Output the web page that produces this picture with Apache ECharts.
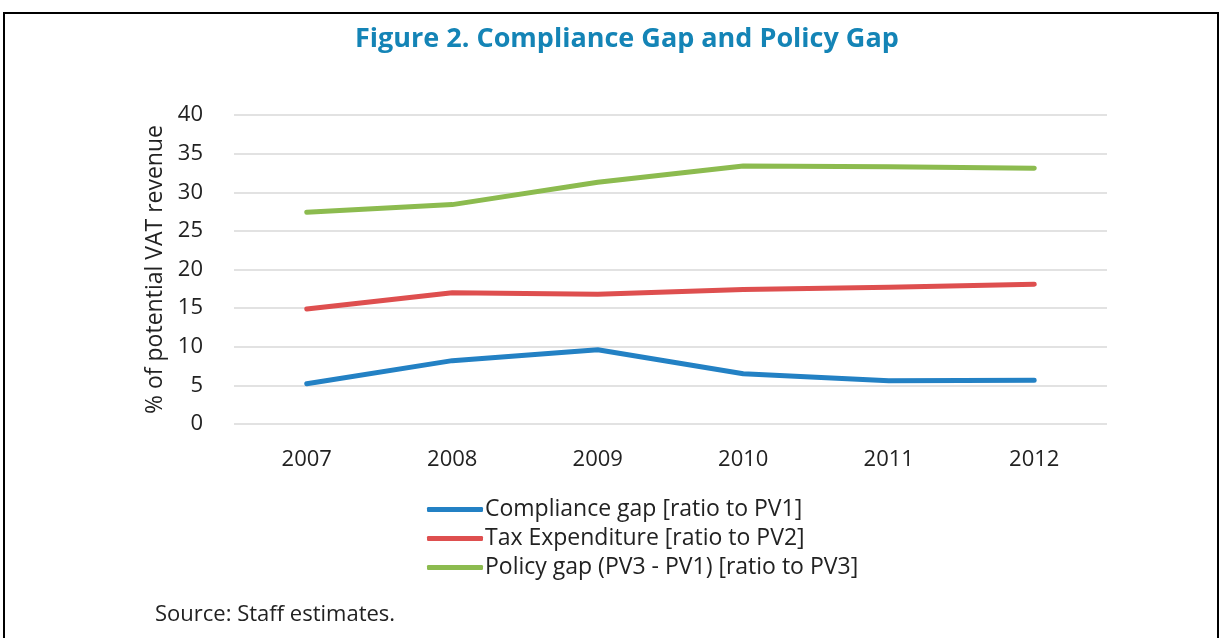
<!DOCTYPE html>
<html>
<head>
<meta charset="utf-8">
<script src="https://cdn.jsdelivr.net/npm/echarts@6/dist/echarts.min.js"></script>
<style>
  html, body { margin: 0; padding: 0; background: #fff; }
  #chart { width: 1220px; height: 638px; }
</style>
</head>
<body>
<div id="chart"></div>
<script>
const years = ["2007", "2008", "2009", "2010", "2011", "2012"];
const yTicks = [0, 5, 10, 15, 20, 25, 30, 35, 40];
const complianceGap = [5.2, 8.2, 9.6, 6.5, 5.6, 5.65];
const taxExpenditure = [14.9, 17.0, 16.8, 17.4, 17.7, 18.1];
const policyGap = [27.4, 28.4, 31.3, 33.4, 33.3, 33.1];
const seriesNames = [
  "Compliance gap [ratio to PV1]",
  "Tax Expenditure [ratio to PV2]",
  "Policy gap (PV3 - PV1) [ratio to PV3]"
];
const colors = ["#2381c4", "#de4f4f", "#8cbb4f"];

const FONT = "'Open Sans', 'Noto Sans', sans-serif";

const chart = echarts.init(document.getElementById("chart"));

const chartOpt = {
  animation: false,
  textStyle: { fontFamily: FONT },
  title: {
    text: "Figure 2. Compliance Gap and Policy Gap",
    left: 350,
    top: 21,
    textStyle: { color: "#1484b6", fontSize: 27, fontWeight: "bold", fontFamily: FONT }
  },
  graphic: [
    {
      type: "polyline",
      shape: { points: [[4, 700], [4, 13], [1218, 13], [1218, 700]] },
      style: { stroke: "#000", lineWidth: 2, fill: null }
    },
    {
      type: "text",
      left: 155,
      top: 604,
      style: { text: "Source: Staff estimates.", fill: "#222", font: "22px " + FONT }
    }
  ],
  legend: {
    orient: "vertical",
    left: 422,
    top: 493,
    itemWidth: 56,
    itemHeight: 5,
    itemGap: 6,
    icon: "roundRect",
    textStyle: { fontSize: 23, color: "#222", padding: [0, 0, 0, -3] },
    data: seriesNames
  },
  grid: { left: 234, right: 113, top: 115, bottom: 214 },
  xAxis: {
    type: "category",
    data: years,
    boundaryGap: true,
    axisLine: { show: false },
    axisTick: { show: false },
    axisLabel: { fontSize: 22, color: "#222", margin: 25 }
  },
  yAxis: {
    type: "value",
    min: yTicks[0],
    max: yTicks[yTicks.length - 1],
    interval: yTicks[1] - yTicks[0],
    name: "% of potential VAT revenue",
    nameLocation: "middle",
    nameGap: 66,
    nameTextStyle: { fontSize: 23, color: "#222" },
    axisLabel: { fontSize: 22, color: "#222", margin: 31 },
    splitLine: { lineStyle: { color: "#d9d9d9", width: 1.5 } }
  },
  series: [
    { name: seriesNames[0], data: complianceGap },
    { name: seriesNames[1], data: taxExpenditure },
    { name: seriesNames[2], data: policyGap }
  ].map((s, i) => ({
    ...s,
    type: "line",
    showSymbol: false,
    symbol: "none",
    color: colors[i],
    lineStyle: { color: colors[i], width: 5, cap: "round", join: "round" }
  }))
};

chart.setOption(chartOpt);
</script>
</body>
</html>
